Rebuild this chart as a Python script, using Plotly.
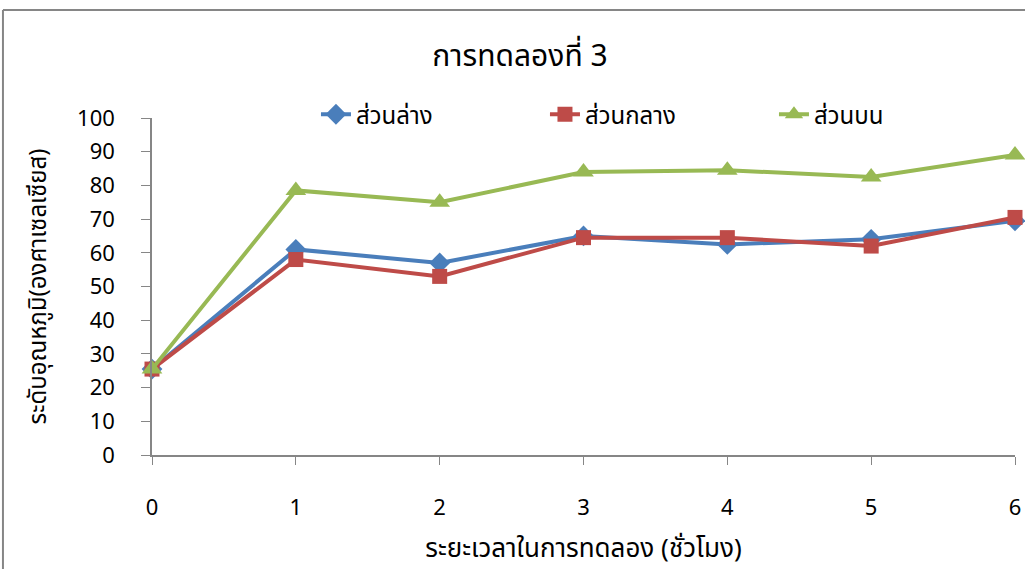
import plotly.graph_objects as go

hours = [0, 1, 2, 3, 4, 5, 6]
lower = [25.5, 61, 57, 65, 62.5, 64, 69.5]
middle = [25.5, 58, 53, 64.5, 64.5, 62, 70.5]
upper = [25.5, 78.5, 75, 84, 84.5, 82.5, 89]
names = ["ส่วนล่าง", "ส่วนกลาง", "ส่วนบน"]
y_ticks = list(range(0, 101, 10))

FONT = "Tahoma, 'Noto Sans Thai', 'Noto Sans', sans-serif"

fig = go.Figure()
fig.add_trace(go.Scatter(x=hours, y=lower, name=names[0], mode="lines+markers",
                         line=dict(color="#4A7EBB", width=4),
                         marker=dict(symbol="diamond", size=16, color="#4A7EBB"),
                         cliponaxis=False))
fig.add_trace(go.Scatter(x=hours, y=middle, name=names[1], mode="lines+markers",
                         line=dict(color="#BE4B48", width=4),
                         marker=dict(symbol="square", size=15, color="#BE4B48"),
                         cliponaxis=False))
fig.add_trace(go.Scatter(x=hours, y=upper, name=names[2], mode="lines+markers",
                         line=dict(color="#98B954", width=4),
                         marker=dict(symbol="triangle-up", size=18, color="#98B954"),
                         cliponaxis=False))

fig.update_layout(
    width=1025, height=569,
    margin=dict(l=152, r=10, t=118, b=114, autoexpand=False),
    paper_bgcolor="white", plot_bgcolor="white",
    font=dict(family=FONT, color="#000000"),
    title=dict(text="การทดลองที่ 3", x=(520 - 152) / 863, xref="paper", xanchor="center",
               y=1 - 55 / 569, yref="container", yanchor="middle",
               font=dict(size=30, family=FONT)),
    legend=dict(orientation="h", x=0.19, y=1.01, xanchor="left", yanchor="middle",
                font=dict(size=24, family=FONT), entrywidth=184, entrywidthmode="pixels",
                bgcolor="rgba(0,0,0,0)"),
    showlegend=True,
)
fig.update_xaxes(range=[0, 6], tickvals=hours, ticktext=[str(h) for h in hours],
                 showgrid=False, zeroline=False, showline=True, linecolor="#868686",
                 linewidth=1.5, ticks="outside", ticklen=8, tickcolor="#868686",
                 ticklabelstandoff=24, tickfont=dict(size=22, family=FONT),
                 automargin=True,
                 title=dict(text="ระยะเวลาในการทดลอง (ชั่วโมง)", standoff=32,
                            font=dict(size=26, family=FONT)))
fig.update_yaxes(range=[0, 100], tickvals=y_ticks, showgrid=False, zeroline=False,
                 showline=True, linecolor="#868686", linewidth=1.5, ticks="outside",
                 ticklen=9, tickcolor="#868686", ticklabelstandoff=22,
                 tickfont=dict(size=22, family=FONT), automargin=False,
                 title=dict(text="ระดับอุณหภูมิ(องศาเซลเซียส)", standoff=24,
                            font=dict(size=24, family=FONT)))

fig.add_shape(type="line", xref="paper", yref="paper",
              x0=-0.1727, x1=-0.1727, y0=-0.35, y1=1.3205,
              line=dict(color="#868686", width=2))
fig.add_shape(type="line", xref="paper", yref="paper",
              x0=-0.1727, x1=1.05, y0=1.3205, y1=1.3205,
              line=dict(color="#868686", width=2))

fig.write_html("out.html")
